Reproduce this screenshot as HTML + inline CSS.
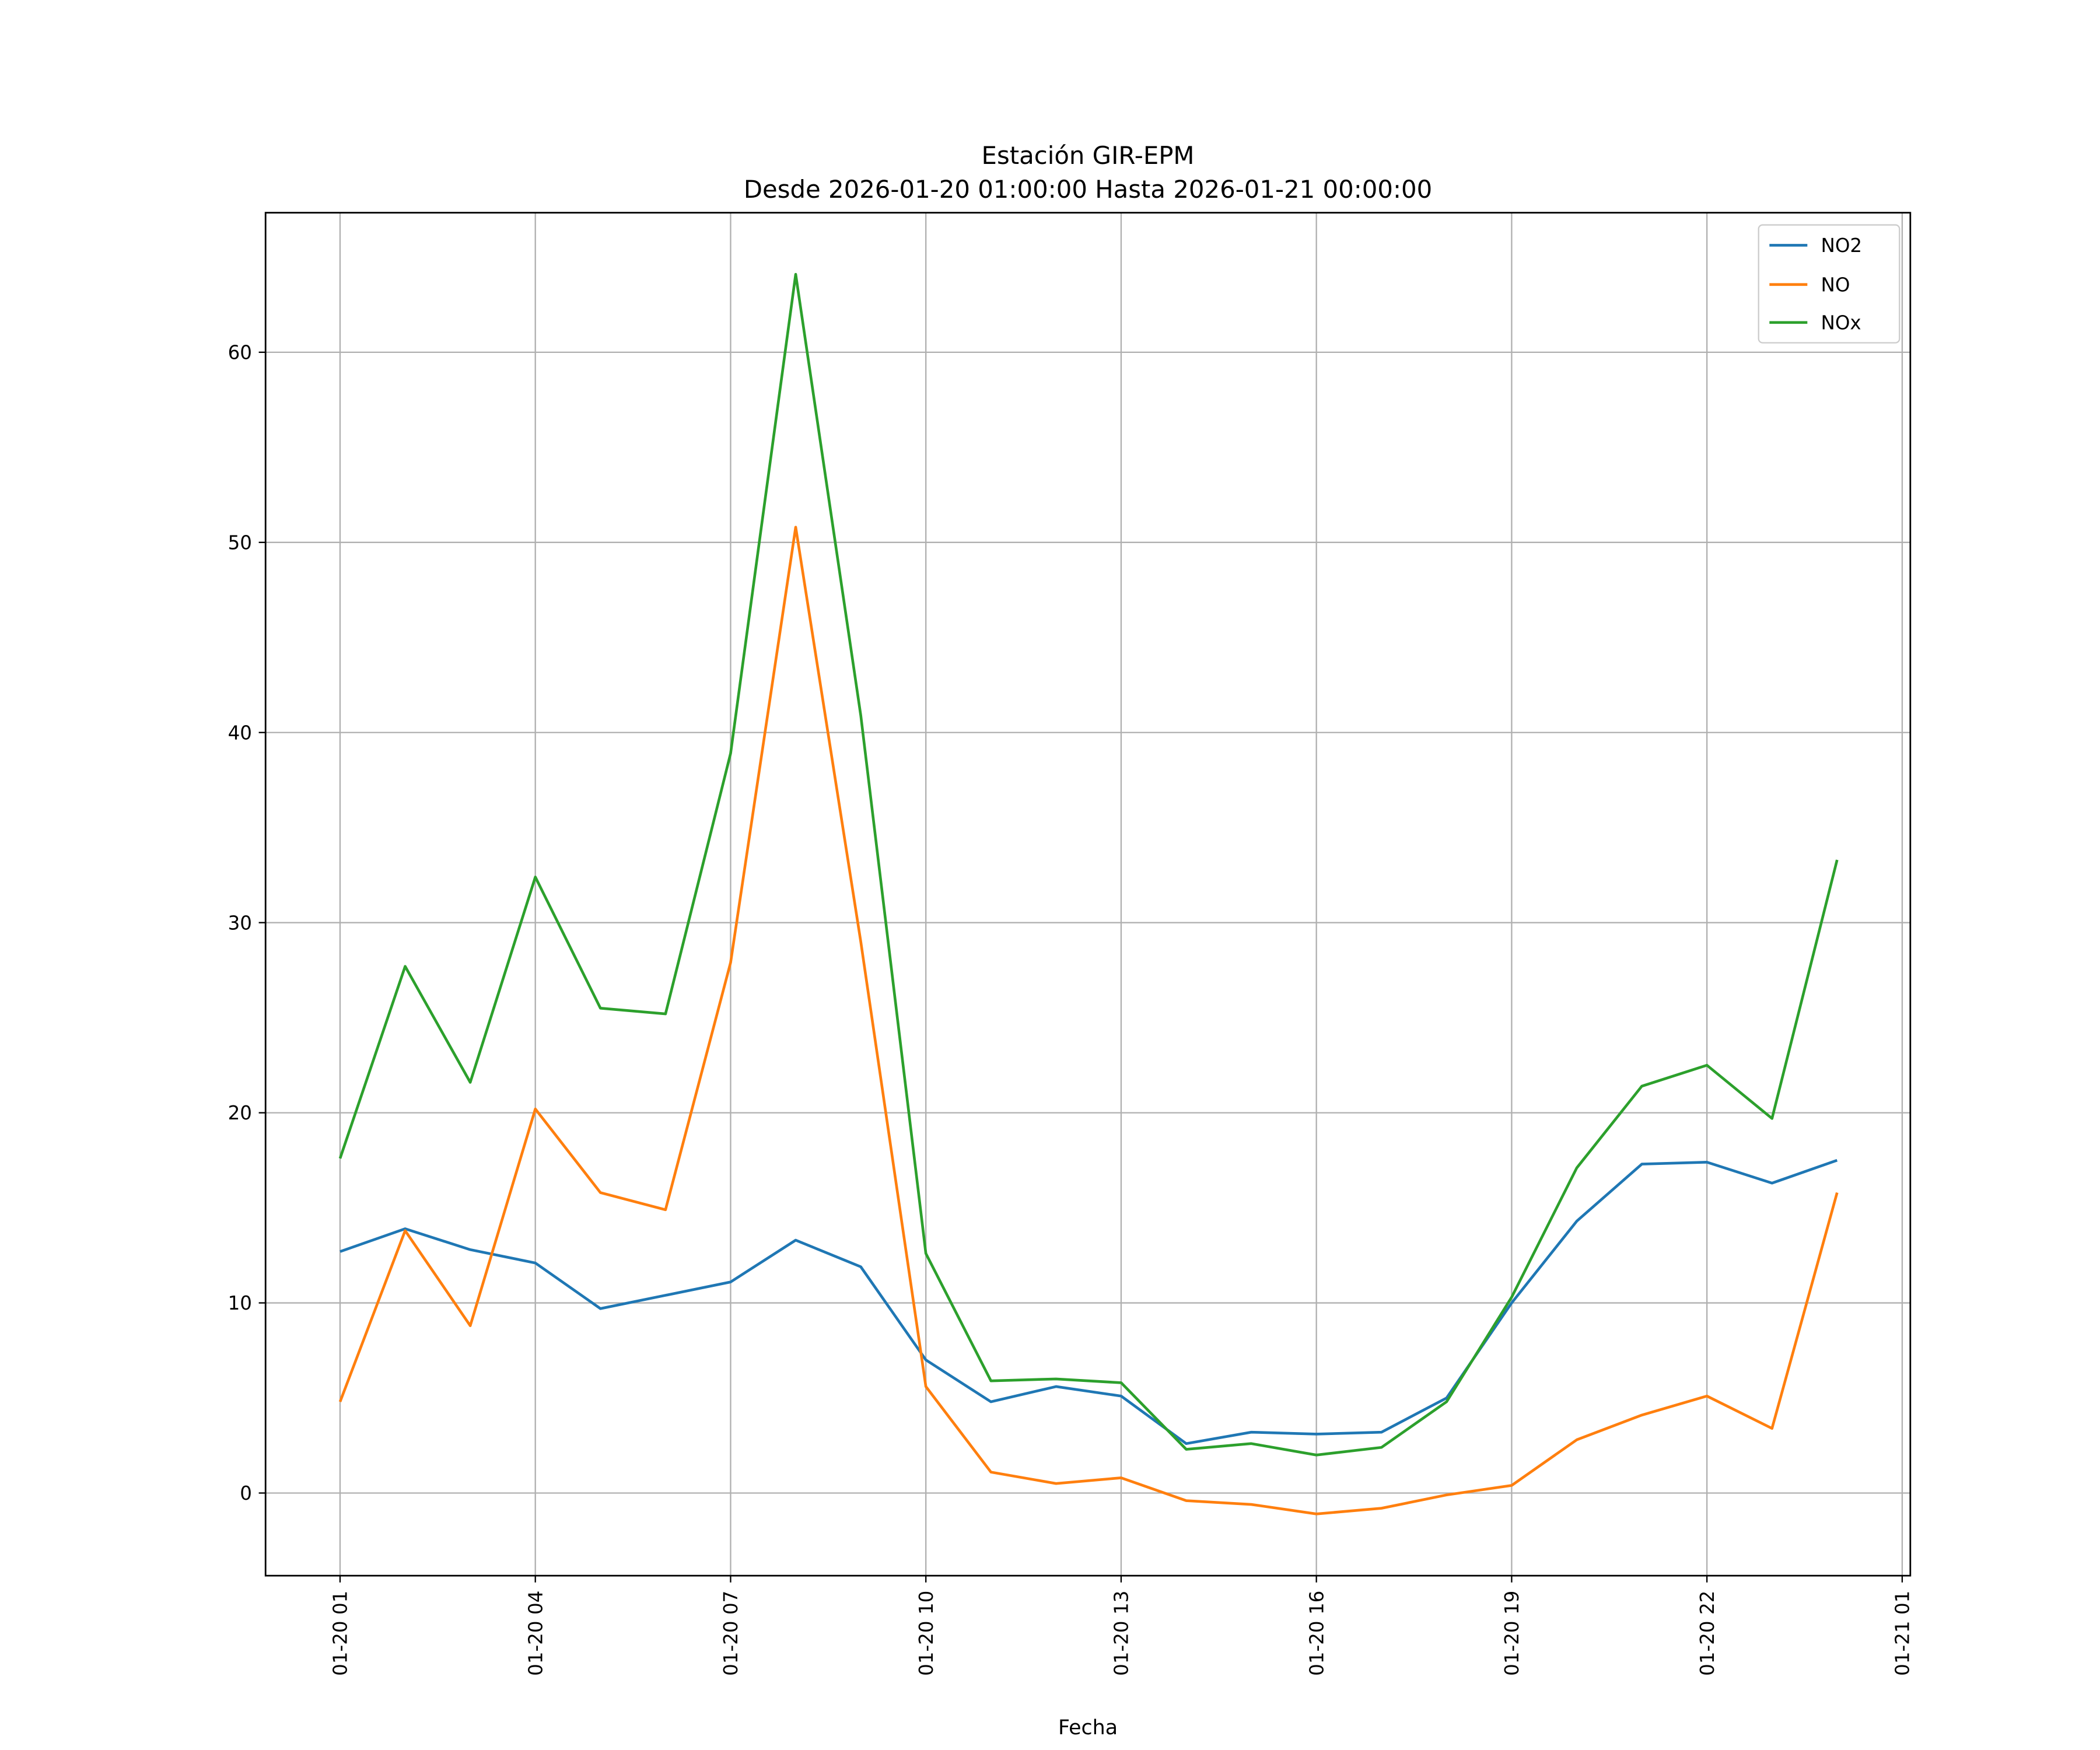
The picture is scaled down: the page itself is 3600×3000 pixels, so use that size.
<!DOCTYPE html>
<html><head><meta charset="utf-8">
<style>
html,body{margin:0;padding:0;background:#fff;}
svg{display:block;}
text{font-family:"DejaVu Sans","Liberation Sans",sans-serif;fill:#000;}
</style></head>
<body>
<svg id="chart" width="3600" height="3000" viewBox="0 0 1550 1291.67" xmlns="http://www.w3.org/2000/svg">
<rect width="1550" height="1291.67" fill="#fff"/>
<text x="803" y="121" font-size="18" text-anchor="middle">Estación GIR-EPM</text>
<text x="803" y="146" font-size="18" text-anchor="middle">Desde 2026-01-20 01:00:00 Hasta 2026-01-21 00:00:00</text>
<g id="grid"></g>
<g id="series"></g>
<rect x="196" y="157" width="1214" height="1006" fill="none" stroke="#000" stroke-width="1.2"/>
<g id="ticks"></g>
<text x="803" y="1280" font-size="15" text-anchor="middle">Fecha</text>
<g>
<rect x="1298" y="166" width="104" height="87" fill="#fff" stroke="#ccc" rx="3"/>
<line x1="1306" y1="181" x2="1334" y2="181" stroke="#1f77b4" stroke-width="2"/>
<text x="1344" y="186" font-size="14">NO2</text>
<line x1="1306" y1="210" x2="1334" y2="210" stroke="#ff7f0e" stroke-width="2"/>
<text x="1344" y="215" font-size="14">NO</text>
<line x1="1306" y1="238" x2="1334" y2="238" stroke="#2ca02c" stroke-width="2"/>
<text x="1344" y="243" font-size="14">NOx</text>
</g>
</svg>
<script>
const hours = [1,2,3,4,5,6,7,8,9,10,11,12,13,14,15,16,17,18,19,20,21,22,23,24];
const no2 = [12.7,13.9,12.8,12.1,9.7,10.4,11.1,13.3,11.9,7.0,4.8,5.6,5.1,2.6,3.2,3.1,3.2,5.0,10.0,14.3,17.3,17.4,16.3,17.5];
const no = [4.8,13.8,8.8,20.2,15.8,14.9,27.9,50.8,29.0,5.6,1.1,0.5,0.8,-0.4,-0.6,-1.1,-0.8,-0.1,0.4,2.8,4.1,5.1,3.4,15.8];
const nox = [17.6,27.7,21.6,32.4,25.5,25.2,38.9,64.1,40.9,12.6,5.9,6.0,5.8,2.3,2.6,2.0,2.4,4.8,10.3,17.1,21.4,22.5,19.7,33.3];
const yTicks = [0,10,20,30,40,50,60];
const xTickHours = [1,4,7,10,13,16,19,22,25];
const xTickLabels = ["01-20 01","01-20 04","01-20 07","01-20 10","01-20 13","01-20 16","01-20 19","01-20 22","01-21 01"];

const NS="http://www.w3.org/2000/svg";
const X = h => 251 + (h-1)*(1153/24);
const Y = v => 1102 - v*(842/60);
function mk(tag, attrs, parent){const e=document.createElementNS(NS,tag);for(const k in attrs)e.setAttribute(k,attrs[k]);parent.appendChild(e);return e;}
const grid=document.getElementById('grid'), ticks=document.getElementById('ticks'), series=document.getElementById('series');
yTicks.forEach(v=>{
  const g=mk('line',{x1:196,x2:1410,y1:Y(v),y2:Y(v),stroke:'#b0b0b0','stroke-width':1},grid);
  
  
  mk('line',{x1:191,x2:196,y1:Y(v),y2:Y(v),stroke:'#000','stroke-width':1},ticks);
  const t=mk('text',{x:186,y:Y(v)+5,'font-size':14,'text-anchor':'end'},ticks);
  t.textContent=v;
  
  
});
xTickHours.forEach((h,i)=>{
  const g=mk('line',{x1:X(h),x2:X(h),y1:157,y2:1163,stroke:'#b0b0b0','stroke-width':1},grid);
  
  
  mk('line',{x1:X(h),x2:X(h),y1:1163,y2:1168,stroke:'#000','stroke-width':1},ticks);
  const t=mk('text',{x:0,y:0,'font-size':14,'text-anchor':'end',transform:`translate(${X(h)+5},1174) rotate(-90)`},ticks);
  t.textContent=xTickLabels[i];
  
  
});
[[no2,'#1f77b4','series-no2'],[no,'#ff7f0e','series-no'],[nox,'#2ca02c','series-nox']].forEach(([d,c,n])=>{
  const p=mk('polyline',{points:d.map((v,i)=>X(hours[i])+','+Y(v)).join(' '),fill:'none',stroke:c,'stroke-width':2,'stroke-linejoin':'round'},series);
  
  
});
</script>
</body></html>
